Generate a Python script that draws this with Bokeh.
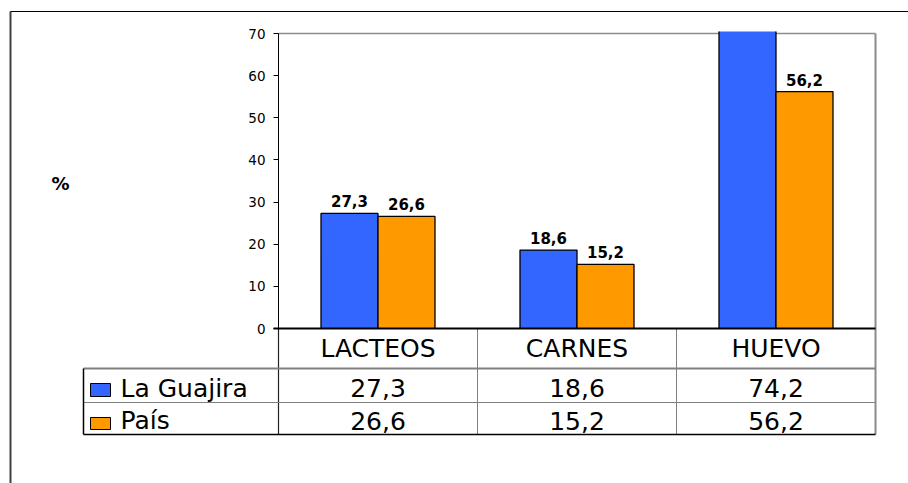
from bokeh.plotting import figure
from bokeh.models import Range1d, LinearAxis, FixedTicker
from bokeh.embed import file_html
from bokeh.resources import INLINE
from bokeh.core.properties import value

# ---- data ----
categories = ["LACTEOS", "CARNES", "HUEVO"]
series_names = ["La Guajira", "País"]
la_guajira = [27.3, 18.6, 74.2]
pais = [26.6, 15.2, 56.2]
y_ticks = [0, 10, 20, 30, 40, 50, 60, 70]
y_label = "%"
colors = ["#3366FF", "#FF9900"]

# ---- layout (page pixels) ----
W, H = 908, 483
M = 0
PLOT_L, PLOT_R = 278, 875
PLOT_T, PLOT_B = 33, 328
Y_MAX = 70

px_x = (PLOT_R - PLOT_L) / len(categories)
px_y = (PLOT_B - PLOT_T) / Y_MAX


def xd(px):
    return (px - PLOT_L) / px_x


def yd(py):
    return (PLOT_B - py) / px_y


FONT = value("DejaVu Sans")

p = figure(width=W, height=H,
           x_range=Range1d(xd(M), xd(M + W)),
           y_range=Range1d(yd(M + H), yd(M)),
           output_backend="svg", toolbar_location=None,
           x_axis_location=None, y_axis_location=None,
           min_border=0, outline_line_color=None)
p.grid.visible = False
p.background_fill_color = "white"
p.border_fill_color = "white"

# y axis drawn at x = 0 of the category scale
yaxis = LinearAxis(fixed_location=0, bounds=(0, Y_MAX),
                   ticker=FixedTicker(ticks=y_ticks))
yaxis.major_tick_out = 5
yaxis.major_tick_in = 0
yaxis.minor_tick_out = 0
yaxis.minor_tick_in = 0
yaxis.axis_line_color = "black"
yaxis.axis_line_width = 1
yaxis.major_tick_line_color = "black"
yaxis.major_label_text_font = "DejaVu Sans"
yaxis.major_label_text_font_size = "13.5px"
yaxis.major_label_text_color = "black"
yaxis.major_label_standoff = 8
p.add_layout(yaxis, "left")

# outer chart border
p.line([xd(10), xd(10)], [yd(11), yd(490)], line_color="#404040", line_width=2)
p.line([xd(10), xd(910)], [yd(11), yd(11)], line_color="black", line_width=1)

# plot-area frame
p.line([0, len(categories)], [Y_MAX, Y_MAX], line_color="#8c8c8c", line_width=1.5)

# bars
bar_w = 57 / px_x
offsets = [-bar_w / 2, bar_w / 2]
clip_top = Y_MAX + 2 / px_y
label_gap = 12 / px_y
for vals, col, off in zip([la_guajira, pais], colors, offsets):
    xs = [i + 0.5 + off for i in range(len(categories))]
    tops = [min(v, clip_top) for v in vals]
    p.vbar(x=xs, top=tops, bottom=0, width=bar_w, fill_color=col, line_color=None)
    ox, oy = [], []
    lx, ly, lt = [], [], []
    for x, v, t in zip(xs, vals, tops):
        x0, x1 = x - bar_w / 2, x + bar_w / 2
        if v <= Y_MAX:
            ox.append([x0, x0, x1, x1])
            oy.append([0, t, t, 0])
            lx.append(x)
            ly.append(v + label_gap)
            lt.append(f"{v:.1f}".replace(".", ","))
        else:
            ox += [[x0, x0], [x1, x1]]
            oy += [[0, t], [0, t]]
    p.multi_line(ox, oy, line_color="black", line_width=1.3)
    p.text(x=lx, y=ly, text=lt, text_font=FONT, text_font_style="bold",
           text_font_size="15px", text_align="center", text_baseline="middle",
           text_color="black")

# right frame / table border
p.line([len(categories), len(categories)], [yd(434), Y_MAX], line_color="#8c8c8c", line_width=2)

# table grid
p.line([0, 0], [yd(434), 0], line_color="#222222", line_width=1.2)
for k in range(1, len(categories)):
    p.line([k, k], [yd(434), 0], line_color="#808080", line_width=1)
p.line([xd(83), len(categories)], [yd(368), yd(368)], line_color="#808080", line_width=2)
p.line([xd(83), len(categories)], [yd(402), yd(402)], line_color="#808080", line_width=1)
p.line([xd(83), len(categories)], [yd(434), yd(434)], line_color="black", line_width=1.5)
p.line([xd(83), xd(83)], [yd(368), yd(434)], line_color="black", line_width=1.5)
p.line([xd(273), len(categories)], [0, 0], line_color="black", line_width=2)

TSIZE = "25px"
# header row
p.text(x=[i + 0.5 for i in range(len(categories))], y=[yd(348)] * len(categories),
       text=categories, text_font=FONT, text_font_size=TSIZE,
       text_align="center", text_baseline="middle", text_color="black")

# value rows + legend keys
row_mid = [387.5, 420]
key_box = [(383, 396), (417, 429)]
for vals, name, col, mid, (kt, kb) in zip([la_guajira, pais], series_names, colors, row_mid, key_box):
    p.text(x=[i + 0.5 for i in range(len(categories))], y=[yd(mid)] * len(categories),
           text=[f"{v:.1f}".replace(".", ",") for v in vals], text_font=FONT,
           text_font_size=TSIZE, text_align="center", text_baseline="middle",
           text_color="black")
    p.text(x=[xd(120)], y=[yd(mid)], text=[name], text_font=FONT,
           text_font_size=TSIZE, text_align="left", text_baseline="middle",
           text_color="black")
    p.quad(left=[xd(90)], right=[xd(110)], top=[yd(kt)], bottom=[yd(kb)],
           fill_color=col, line_color="black", line_width=1)

# "%" label
p.text(x=[xd(60)], y=[yd(183)], text=[y_label], text_font=FONT, text_font_style="bold",
       text_font_size="18px", text_align="center", text_baseline="middle",
       text_color="black")

open("out.html", "w").write(file_html(p, INLINE))
